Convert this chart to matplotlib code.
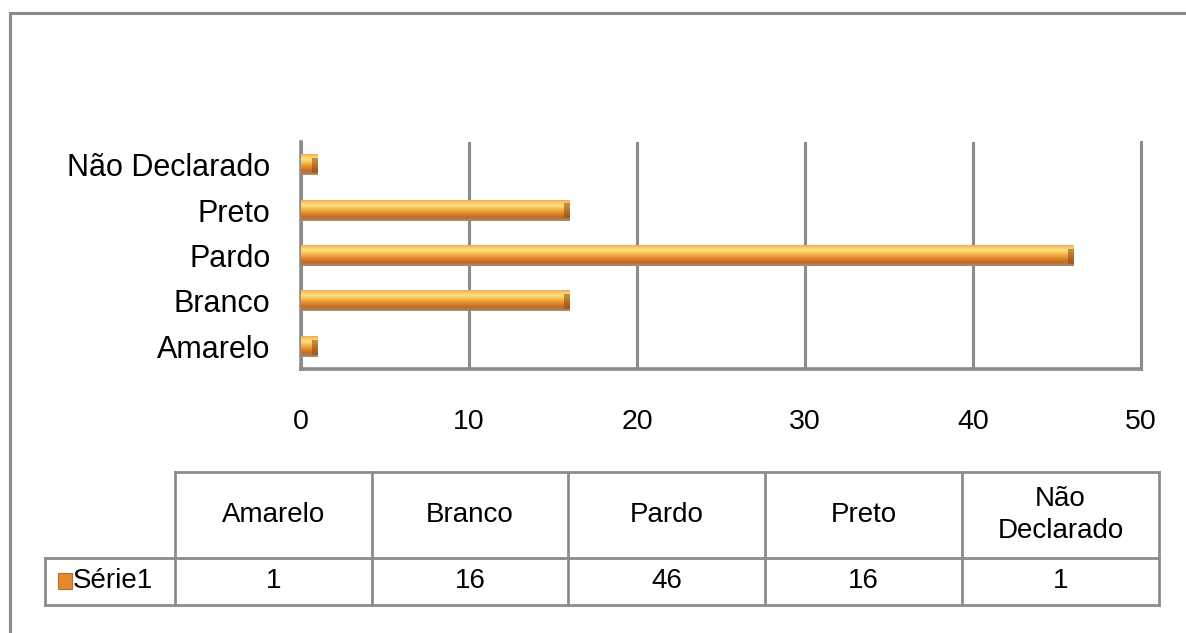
import numpy as np
import matplotlib.pyplot as plt
from matplotlib.colors import LinearSegmentedColormap
from matplotlib.lines import Line2D
from matplotlib.patches import Rectangle

plt.rcParams['font.family'] = ['Liberation Sans', 'DejaVu Sans']

categories = ['Amarelo', 'Branco', 'Pardo', 'Preto', 'Não Declarado']
header_labels = ['Amarelo', 'Branco', 'Pardo', 'Preto', 'Não\nDeclarado']
values = [1, 16, 46, 16, 1]
series_name = 'Série1'
x_ticks = [0, 10, 20, 30, 40, 50]

grey = '#8c8c8c'

fig = plt.figure(figsize=(11.86, 6.33), dpi=100)

# outer chart frame (top and left edge visible)
fig.add_artist(Line2D([10 / 1186, 1.0], [1 - 13 / 633] * 2, color=grey, lw=2.2))
fig.add_artist(Line2D([10 / 1186] * 2, [0, 1 - 13 / 633], color=grey, lw=2.2))

ax = fig.add_axes([301 / 1186, 1 - 369 / 633, 840 / 1186, 227 / 633])

# vertical gradient that fakes the beveled bar look
bar_cmap = LinearSegmentedColormap.from_list('bevel', [
    (0.00, '#f2a65a'), (0.10, '#fbc766'), (0.25, '#fde27e'),
    (0.45, '#f3b445'), (0.62, '#e48a2c'), (0.80, '#c66c1f'),
    (0.88, '#a9764f'), (1.00, '#b88a66')])
grad = np.linspace(0, 1, 64).reshape(-1, 1)

y = np.arange(len(categories))
bars = ax.barh(y, values, height=0.46, color='#e48a2c', zorder=3)
for b in bars:
    x0, y0, w, h = b.get_x(), b.get_y(), b.get_width(), b.get_height()
    im = ax.imshow(grad, cmap=bar_cmap, aspect='auto', zorder=4,
                   extent=[x0, x0 + w, y0, y0 + h], origin='upper')
    im.set_clip_path(b)
    # darker right cap
    ax.add_patch(Rectangle((x0 + w - 0.35, y0 + h * 0.1), 0.35, h * 0.72,
                           color='#8a4d15', alpha=0.55, lw=0, zorder=5))

ax.set_xlim(0, 50)
ax.set_ylim(-0.5, len(categories) - 0.5)
ax.set_xticks(x_ticks)
ax.set_yticks(y)
ax.set_yticklabels(categories)
ax.tick_params(axis='y', length=0, pad=22, labelsize=22)
ax.tick_params(axis='x', length=0, pad=29, labelsize=20.5)
ax.xaxis.grid(True, color=grey, lw=2.2, zorder=0)
ax.set_axisbelow(True)
ax.spines['top'].set_visible(False)
ax.spines['right'].set_color(grey)
ax.spines['right'].set_linewidth(2.2)
for s in ['left', 'bottom']:
    ax.spines[s].set_color(grey)
    ax.spines[s].set_linewidth(2.6)

# data table below the chart
W, H = 1186, 633
col_edges = [175, 372, 568, 765, 962, 1159]
top, mid, bot = 472, 558, 605
left_lbl = 45


def fx(px):
    return px / W


def fy(py):
    return 1 - py / H


def hline(x0, x1, yy):
    fig.add_artist(Line2D([fx(x0), fx(x1)], [fy(yy)] * 2, color=grey, lw=2))


def vline(xx, y0, y1):
    fig.add_artist(Line2D([fx(xx)] * 2, [fy(y0), fy(y1)], color=grey, lw=2))


hline(col_edges[0], col_edges[-1], top)
hline(left_lbl, col_edges[-1], mid)
hline(left_lbl, col_edges[-1], bot)
for i, cx in enumerate(col_edges):
    vline(cx, top, bot)
vline(left_lbl, mid, bot)

for i, (lab, v) in enumerate(zip(header_labels, values)):
    cx = (col_edges[i] + col_edges[i + 1]) / 2
    fig.text(fx(cx), fy((top + mid) / 2), lab, ha='center', va='center',
             fontsize=20, linespacing=1.25)
    fig.text(fx(cx), fy((mid + bot) / 2), str(v), ha='center', va='center',
             fontsize=20)

# legend key for the series row
fig.add_artist(Rectangle((fx(58), fy(589)), 14 / W, 16 / H, transform=fig.transFigure,
                         facecolor='#e48a2c', edgecolor='#b07030', lw=0.8))
fig.text(fx(73), fy((mid + bot) / 2), series_name, ha='left', va='center',
         fontsize=20)

fig.savefig('out.png', dpi=100)
